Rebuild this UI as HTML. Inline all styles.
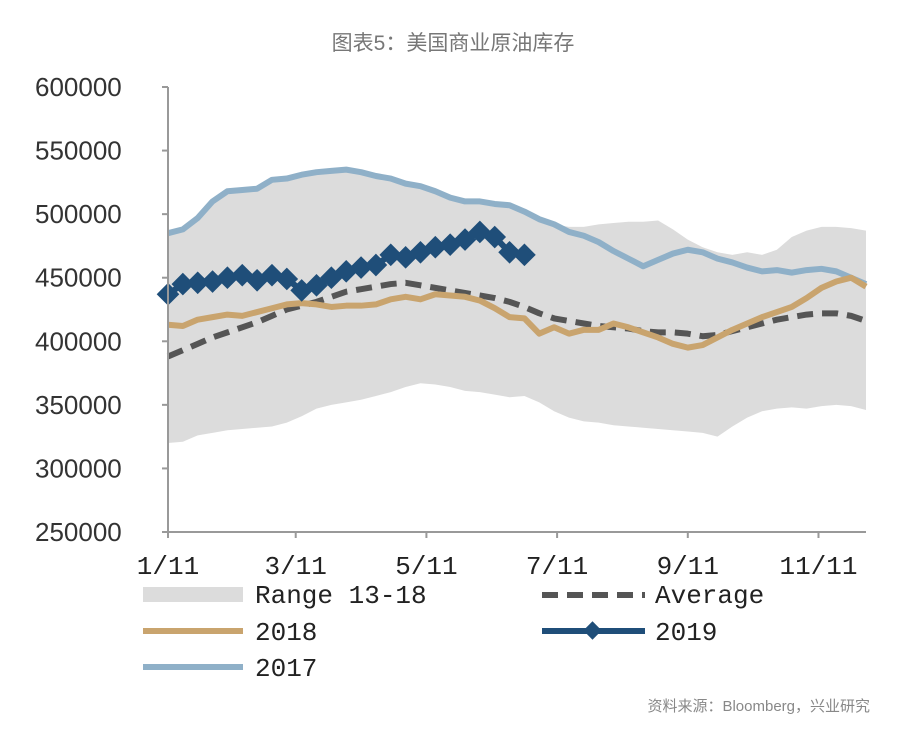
<!DOCTYPE html>
<html><head><meta charset="utf-8"><style>
body{margin:0;background:#fff;width:900px;height:733px;overflow:hidden}
svg text{font-family:"Liberation Sans","Noto Sans CJK SC",sans-serif}
</style></head><body>
<svg id="c" width="900" height="733">
<text x="453" y="50" text-anchor="middle" font-size="21" fill="#777">图表5：美国商业原油库存</text>
<g id="plot"></g>
<g id="legend">
 <rect x="143" y="587" width="100" height="15" fill="#dcdcdc"/>
 <text x="255" y="603" font-size="26" fill="#222" style="font-family:'Liberation Mono',monospace">Range 13-18</text>
 <line x1="542" y1="595" x2="645" y2="595" stroke="#555" stroke-width="6" stroke-dasharray="16,9"/>
 <text x="655" y="603" font-size="26" fill="#222" style="font-family:'Liberation Mono',monospace">Average</text>
 <line x1="143" y1="631" x2="243" y2="631" stroke="#c9a46e" stroke-width="6"/>
 <text x="255" y="640" font-size="26" fill="#222" style="font-family:'Liberation Mono',monospace">2018</text>
 <line x1="542" y1="631" x2="645" y2="631" stroke="#1f4e79" stroke-width="6"/>
 <rect x="586" y="624" width="13" height="13" fill="#1f4e79" transform="rotate(45 592.5 630.5)"/>
 <text x="655" y="640" font-size="26" fill="#222" style="font-family:'Liberation Mono',monospace">2019</text>
 <line x1="143" y1="667" x2="243" y2="667" stroke="#8fb0c8" stroke-width="6"/>
 <text x="255" y="676" font-size="26" fill="#222" style="font-family:'Liberation Mono',monospace">2017</text>
</g>
<text x="870" y="711" text-anchor="end" font-size="15" fill="#888">资料来源：Bloomberg，兴业研究</text>
</svg>
<script>
const yTicks=[600000,550000,500000,450000,400000,350000,300000,250000];
const xLabels=["1/11","3/11","5/11","7/11","9/11","11/11"];
const xLabelWeeks=[0,8.6,17.4,26.2,35.0,43.8];
const s2017=[485,488,497,510,518,519,520,527,528,531,533,534,535,533,530,528,524,522,518,513,510,510,508,507,502,496,492,486,483,478,471,465,459,464,469,472,470,465,462,458,455,456,454,456,457,455,450,445];
const s2018=[413,412,417,419,421,420,423,426,429,430,429,427,428,428,429,433,435,433,437,436,435,432,426,419,418,406,411,406,409,409,414,411,407,403,398,395,397,403,409,414,419,423,427,434,442,447,450,443];
const s2019=[437,445,446,447,450,452,448,452,449,440,444,450,455,458,460,468,466,470,474,476,480,486,482,470,468];
const avg=[388,393,398,403,407,411,415,420,425,428,431,435,439,441,443,445,446,444,442,440,438,436,434,431,427,422,418,416,414,412,411,410,408,407,407,406,404,405,408,411,414,417,419,421,422,422,420,416];
const rangeHigh=[485,488,497,510,518,519,520,527,528,531,533,534,535,533,530,528,524,522,518,513,510,510,508,507,502,496,492,490,490,492,493,494,494,495,488,480,474,470,468,470,468,472,482,487,490,490,489,487];
const rangeLow=[320,321,326,328,330,331,332,333,336,341,347,350,352,354,357,360,364,367,366,364,361,360,358,356,357,352,345,340,337,336,334,333,332,331,330,329,328,325,333,340,345,347,348,347,349,350,349,346];
const X0=168,X1=866,Y0=87,Y1=532,NW=47;
const xs=i=>X0+(X1-X0)*i/NW;
const ys=v=>Y0+(600000-v)/(600000-250000)*(Y1-Y0);
const NS="http://www.w3.org/2000/svg";
const g=document.getElementById('plot');
function mk(t,a){const e=document.createElementNS(NS,t);for(const k in a)e.setAttribute(k,a[k]);g.appendChild(e);return e;}
let d="M"+rangeHigh.map((v,i)=>xs(i)+","+ys(v*1000)).join("L");
for(let i=rangeLow.length-1;i>=0;i--)d+="L"+xs(i)+","+ys(rangeLow[i]*1000);
let band=mk('path',{d:d+"Z",fill:"#dcdcdc"});


function line(arr,stroke,name,dash){const p=mk('path',{d:"M"+arr.map((v,i)=>xs(i)+","+ys(v*1000)).join("L"),fill:"none",stroke:stroke,"stroke-width":6,"stroke-linejoin":"round"});if(dash)p.setAttribute('stroke-dasharray',dash);

return p;}
line(s2017,"#8fb0c8","line-2017");
line(avg,"#555","line-average","16,9");
line(s2018,"#c9a46e","line-2018");
line(s2019,"#1f4e79","line-2019");
s2019.forEach((v,i)=>{const cx=xs(i),cy=ys(v*1000);const r=mk('rect',{x:cx-8,y:cy-8,width:16,height:16,fill:"#1f4e79",transform:`rotate(45 ${cx} ${cy})`});

});
const ya=mk('line',{x1:X0,y1:Y0,x2:X0,y2:Y1,stroke:"#999","stroke-width":2});


const xa=mk('line',{x1:X0,y1:Y1,x2:X1,y2:Y1,stroke:"#999","stroke-width":2});


yTicks.forEach(v=>{const y=ys(v);mk('line',{x1:X0-6,y1:y,x2:X0,y2:y,stroke:"#999","stroke-width":2});
const t=mk('text',{x:35,y:y+9,"font-size":26,fill:"#333"});t.textContent=v;

});
xLabels.forEach((l,k)=>{const x=xs(xLabelWeeks[k]);mk('line',{x1:x,y1:Y1,x2:x,y2:Y1+6,stroke:"#999","stroke-width":2});
const t=mk('text',{x:x,y:574,"font-size":26,fill:"#222","text-anchor":"middle",style:"font-family:'Liberation Mono',monospace"});t.textContent=l;

});
</script>
</body></html>
